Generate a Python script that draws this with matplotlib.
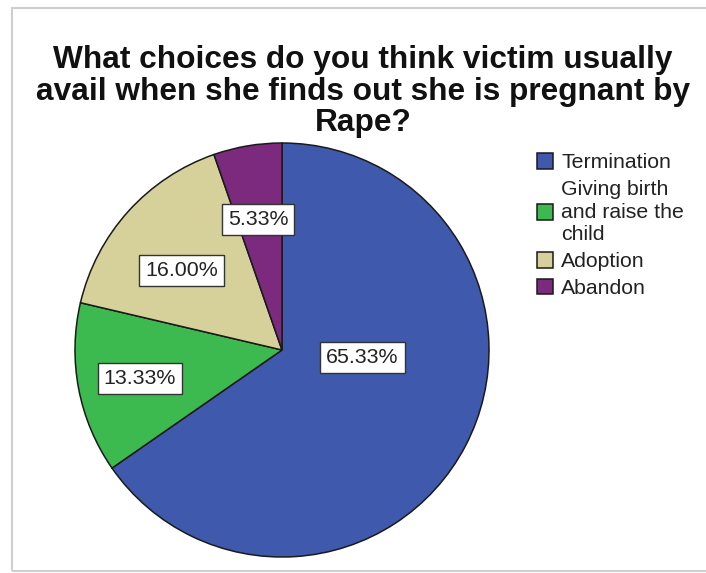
import matplotlib.pyplot as plt
from matplotlib.patches import Rectangle
import numpy as np

plt.rcParams['font.family'] = ['Liberation Sans', 'DejaVu Sans']

title = "What choices do you think victim usually\navail when she finds out she is pregnant by\nRape?"
categories = ["Termination", "Giving birth\nand raise the\nchild", "Adoption", "Abandon"]
percents = [65.33, 13.33, 16.00, 5.33]
colors = ["#3f59ad", "#3dba4f", "#d6d09a", "#7c2a7e"]

# where each value label sits: distance from center and turn off the mid-angle (deg)
label_dist = [0.39, 0.70, 0.62, 0.64]
label_turn = [22.6, 0.4, 3.7, 0.8]

W, H = 706, 573
fig = plt.figure(figsize=(W / 100, H / 100), dpi=100)

# light frame around the chart area
fig.patches.append(Rectangle((12 / W, 2 / H), 1.2, 563 / H,
                             transform=fig.transFigure, fill=False,
                             edgecolor="#cfcfcf", linewidth=1.5))

# baseline of a multi-line text is that of its last line
fig.text(363 / W, 1 - 131 / H, title, ha="center", va="baseline", fontsize=22.8,
         fontweight="bold", color="#111111", linespacing=1.06)

# pie axes: center (282, 350), radius 207 px
cx, cy, r = 282, 350, 207
ax = fig.add_axes([(cx - r) / W, 1 - (cy + r) / H, 2 * r / W, 2 * r / H])
vals = iter(percents)
wedges, texts, autotexts = ax.pie(
    percents, colors=colors, startangle=90, counterclock=False,
    autopct=lambda p: f"{next(vals):.2f}%", radius=1,
    wedgeprops=dict(edgecolor="#1a1a1a", linewidth=1.1),
    textprops=dict(fontsize=15.4, color="#222222"))
ax.set_xlim(-1, 1)
ax.set_ylim(-1, 1)
ax.set_aspect("equal")

for w, t, d, turn in zip(wedges, autotexts, label_dist, label_turn):
    a = np.radians((w.theta1 + w.theta2) / 2 + turn)
    t.set_position((d * np.cos(a), d * np.sin(a)))
    t.set_bbox(dict(boxstyle="square,pad=0.28", facecolor="white",
                    edgecolor="#333333", linewidth=1.0))

leg = fig.legend(wedges, categories, loc="upper left",
                 bbox_to_anchor=(537 / W, 1 - 153 / H), frameon=False,
                 fontsize=15.3, handlelength=0.75, handleheight=0.75,
                 handletextpad=0.4, labelspacing=0.36, borderpad=0,
                 borderaxespad=0)
for t in leg.get_texts():
    t.set_linespacing(1.25)
    t.set_color("#222222")

fig.savefig("out.png", dpi=100)
